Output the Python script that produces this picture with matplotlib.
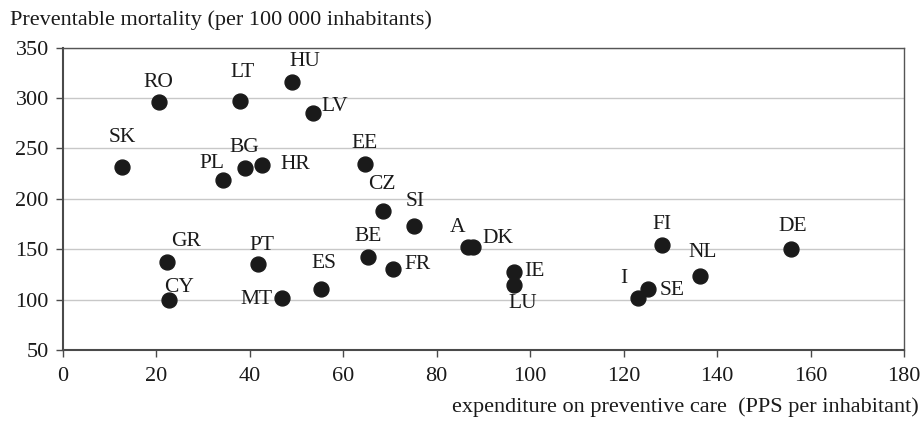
import matplotlib
matplotlib.use("Agg")
import matplotlib.pyplot as plt

plt.rcParams["font.family"] = ["Liberation Serif", "DejaVu Serif"]

# pays, depenses en prevention (PPS/hab) et mortalite evitable (pour 100 000 hab)
pays = ["SK", "RO", "LT", "HU", "LV", "PL", "BG", "HR", "EE", "CZ", "SI",
        "A", "DK", "BE", "FR", "ES", "GR", "PT", "CY", "MT", "IE", "LU",
        "I", "SE", "FI", "NL", "DE"]
depenses = [12.7, 20.6, 37.9, 49.0, 53.5, 34.3, 39.0, 42.6, 64.6, 68.5, 75.1,
            86.7, 87.7, 65.3, 70.6, 55.2, 22.3, 41.8, 22.7, 46.9, 96.5, 96.5,
            123.0, 125.2, 128.2, 136.3, 155.8]
mortalite = [231.6, 296.1, 297.1, 316.0, 285.2, 218.7, 230.6, 233.6, 234.6,
             188.0, 173.1, 152.2, 152.0, 142.3, 130.4, 110.5, 137.3, 135.4,
             99.6, 101.6, 127.4, 114.5, 101.6, 110.5, 154.2, 123.4, 150.2]

# decalage des etiquettes en pixels (dx, dy)
decalage = {
    "SK": (0, 30), "RO": (-1, 20), "LT": (3, 29), "HU": (13, 20),
    "LV": (22, 7), "PL": (-11, 17), "BG": (-1, 21), "HR": (33, 0),
    "EE": (0, 20), "CZ": (-1, 26), "SI": (1, 24), "A": (-11, 20),
    "DK": (25, 9), "BE": (0, 21), "FR": (25, 4), "ES": (3, 26),
    "GR": (19, 21), "PT": (4, 18), "CY": (10, 13), "MT": (-25, -1),
    "IE": (21, 1), "LU": (9, -18), "I": (-14, 20), "SE": (24, -1),
    "FI": (0, 21), "NL": (3, 24), "DE": (2, 23),
}

fig = plt.figure(figsize=(9.23, 4.21), dpi=100)
ax = fig.add_axes([0.0679, 0.1686, 0.9118, 0.7181])

ax.scatter(depenses, mortalite, s=115, color="#1a1a1a", zorder=3)

for p, x, y in zip(pays, depenses, mortalite):
    dx, dy = decalage[p]
    ax.annotate(p, (x, y), xytext=(dx * 0.72, dy * 0.72), textcoords="offset points",
                ha="center", va="center", fontsize=15.5, color="#1a1a1a")

ax.set_xlim(0, 180)
ax.set_ylim(50, 350)
ax.set_xticks(range(0, 181, 20))
ax.set_yticks(range(50, 351, 50))
ax.grid(axis="y", color="#c8c8c8", linewidth=1)
ax.set_axisbelow(True)

for lado in ["left", "bottom"]:
    ax.spines[lado].set_color("#4a4a4a")
    ax.spines[lado].set_linewidth(1.5)
for lado in ["top", "right"]:
    ax.spines[lado].set_color("#555555")
    ax.spines[lado].set_linewidth(1.0)

ax.tick_params(axis="both", labelsize=16, colors="#4a4a4a", labelcolor="#1a1a1a",
               length=5, width=1)
ax.tick_params(axis="x", pad=7)
ax.tick_params(axis="y", pad=5)

fig.text(0.011, 0.952, "Preventable mortality (per 100 000 inhabitants)",
         fontsize=16, ha="left", va="center", color="#1a1a1a")
fig.text(0.995, 0.033, "expenditure on preventive care  (PPS per inhabitant)",
         fontsize=16, ha="right", va="center", color="#1a1a1a")

fig.savefig("out.png", dpi=100)
